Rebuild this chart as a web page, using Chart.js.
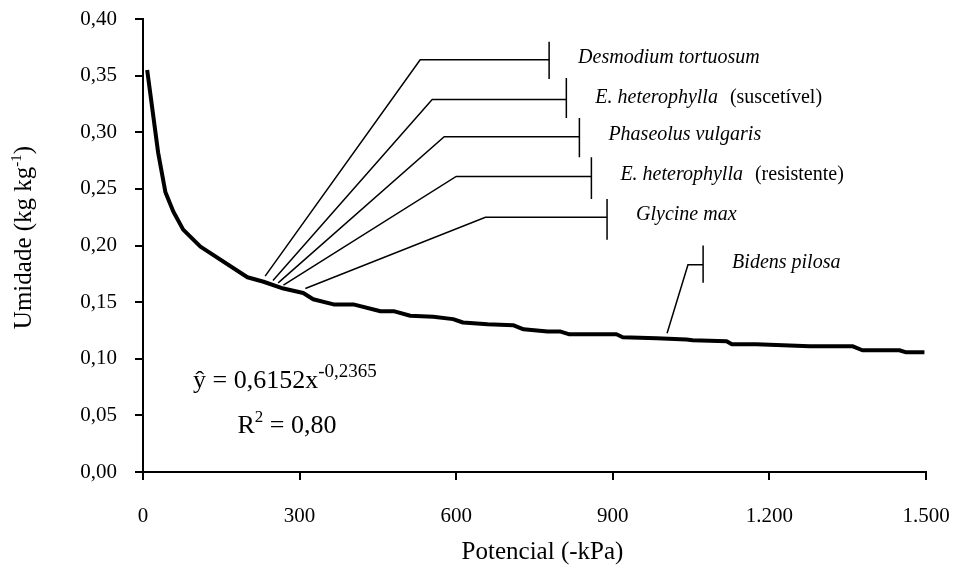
<!DOCTYPE html>
<html>
<head>
<meta charset="utf-8">
<script src="https://cdn.jsdelivr.net/npm/chart.js@4"></script>
<style>
  html, body { margin: 0; padding: 0; background: #fff; }
  canvas { display: block; }
</style>
</head>
<body>
<canvas id="chart" width="953" height="571"></canvas>
<script>
// curva de retenção
const potencial = [8, 29, 43, 58, 77, 110, 200, 231, 269, 307, 326, 365, 403, 455, 480, 512, 556, 594, 613, 660, 709, 729, 775, 800, 817, 907, 919, 984, 1041, 1053, 1118, 1128, 1175, 1277, 1360, 1378, 1449, 1462, 1497];
const umidade = [0.355, 0.282, 0.247, 0.230, 0.214, 0.199, 0.172, 0.168, 0.162, 0.158, 0.1525, 0.148, 0.148, 0.142, 0.142, 0.138, 0.137, 0.135, 0.132, 0.1305, 0.1296, 0.126, 0.124, 0.124, 0.1216, 0.1216, 0.119, 0.118, 0.117, 0.1164, 0.1155, 0.1128, 0.1128, 0.111, 0.111, 0.1075, 0.1075, 0.1057, 0.1057];

// espécies e linhas de chamada
const especies = ['Desmodium tortuosum', 'E. heterophylla', 'Phaseolus vulgaris', 'E. heterophylla', 'Glycine max', 'Bidens pilosa'];
const notas = ['', '(suscetível)', '', '(resistente)', '', ''];
const inicioX = [234, 249, 259, 269, 311, 1004];
const inicioY = [0.173, 0.169, 0.167, 0.165, 0.162, 0.1225];
const cotoveloX = [531, 554, 577, 600, 656, 1044];
const nivelY = [0.364, 0.329, 0.296, 0.261, 0.225, 0.183];
const fimX = [778, 811, 836, 859, 889, 1073];
const marcaTopo = [0.380, 0.348, 0.3125, 0.278, 0.241, 0.200];
const marcaBase = [0.347, 0.3125, 0.278, 0.241, 0.205, 0.167];

// eixos
const xTicks = [0, 300, 600, 900, 1200, 1500];
const yTicks = [0, 0.05, 0.10, 0.15, 0.20, 0.25, 0.30, 0.35, 0.40];

// equação
const equacao = { x: 96, y: 0.074, coef: '0,6152', expoente: '-0,2365' };
const ajuste = { x: 181, y: 0.034, r2: '0,80' };

const FONTE = 'Liberation Serif, Times New Roman, serif';

const datasets = [{
  data: potencial.map((p, i) => ({ x: p, y: umidade[i] })),
  borderColor: '#000',
  borderWidth: 4,
  borderJoinStyle: 'round',
  borderCapStyle: 'butt',
  pointRadius: 0,
  tension: 0
}];

especies.forEach((_, i) => {
  datasets.push({
    data: [
      { x: inicioX[i], y: inicioY[i] },
      { x: cotoveloX[i], y: nivelY[i] },
      { x: fimX[i], y: nivelY[i] }
    ],
    borderColor: '#000',
    borderWidth: 1.5,
    pointRadius: 0,
    tension: 0
  });
  datasets.push({
    data: [
      { x: fimX[i], y: marcaTopo[i] },
      { x: fimX[i], y: marcaBase[i] }
    ],
    borderColor: '#000',
    borderWidth: 1.5,
    pointRadius: 0,
    tension: 0
  });
});

function formatMilhar(v) {
  return String(v).replace(/\B(?=(\d{3})+(?!\d))/g, '.');
}

// zera o recuo automático das escalas, a área fica só pelo layout.padding
function semRecuo(s) {
  s.paddingTop = 0;
  s.paddingBottom = 0;
  s.paddingLeft = 0;
  s.paddingRight = 0;
}

// textos: rótulos das espécies, equação e títulos dos eixos
const textos = {
  id: 'textos',
  afterDraw(chart) {
    const c = chart.ctx;
    const xs = chart.scales.x;
    const ys = chart.scales.y;
    const area = chart.chartArea;
    c.save();
    c.fillStyle = '#000';

    // rótulos
    c.textBaseline = 'middle';
    c.textAlign = 'left';
    especies.forEach((nome, i) => {
      const px = xs.getPixelForValue(fimX[i]) + 29;
      const py = ys.getPixelForValue(nivelY[i]) - 2;
      c.font = 'italic 20px ' + FONTE;
      c.fillText(nome, px, py);
      if (notas[i]) {
        const w = c.measureText(nome).width;
        c.font = '20px ' + FONTE;
        c.fillText(notas[i], px + w + 12, py);
      }
    });

    // equação
    c.textBaseline = 'alphabetic';
    let px = xs.getPixelForValue(equacao.x);
    let py = ys.getPixelForValue(equacao.y);
    c.font = '26px ' + FONTE;
    const base = '\u0177 = ' + equacao.coef + 'x';
    c.fillText(base, px, py);
    px += c.measureText(base).width;
    c.font = '19px ' + FONTE;
    c.fillText(equacao.expoente, px, py - 11);

    px = xs.getPixelForValue(ajuste.x);
    py = ys.getPixelForValue(ajuste.y);
    c.font = '26px ' + FONTE;
    c.fillText('R', px, py);
    px += c.measureText('R').width;
    c.font = '17px ' + FONTE;
    c.fillText('2', px, py - 11);
    px += c.measureText('2').width;
    c.font = '26px ' + FONTE;
    c.fillText(' = ' + ajuste.r2, px, py);

    // título eixo x
    c.font = '25px ' + FONTE;
    c.textAlign = 'center';
    c.fillText('Potencial (-kPa)', (area.left + area.right) / 2 + 8, area.bottom + 87);

    // título eixo y (rotacionado)
    c.translate(area.left - 112, (area.top + area.bottom) / 2 - 8);
    c.rotate(-Math.PI / 2);
    c.textAlign = 'left';
    const p1 = 'Umidade (kg kg';
    const p2 = '-1';
    const p3 = ')';
    c.font = '25px ' + FONTE;
    const w1 = c.measureText(p1).width;
    const w3 = c.measureText(p3).width;
    c.font = '15px ' + FONTE;
    const w2 = c.measureText(p2).width;
    let tx = -(w1 + w2 + w3) / 2;
    c.font = '25px ' + FONTE;
    c.fillText(p1, tx, 0);
    tx += w1;
    c.font = '15px ' + FONTE;
    c.fillText(p2, tx, -10);
    tx += w2;
    c.font = '25px ' + FONTE;
    c.fillText(p3, tx, 0);

    c.restore();
  }
};

const ctx = document.getElementById('chart').getContext('2d');
new Chart(ctx, {
  type: 'line',
  data: { datasets: datasets },
  options: {
    responsive: false,
    animation: false,
    devicePixelRatio: 1,
    layout: { padding: { top: 19, right: 27, left: 0, bottom: 0 } },
    plugins: {
      legend: { display: false },
      tooltip: { enabled: false }
    },
    scales: {
      x: {
        type: 'linear',
        min: 0,
        max: 1500,
        afterBuildTicks: (s) => { s.ticks = xTicks.map(v => ({ value: v })); },
        afterFit: (s) => { s.height = 99; semRecuo(s); },
        ticks: {
          color: '#000',
          font: { family: FONTE, size: 21 },
          padding: 24,
          maxRotation: 0,
          callback: (v) => formatMilhar(v)
        },
        grid: { drawOnChartArea: false, drawTicks: true, tickLength: 8, color: '#000', lineWidth: 2 },
        border: { color: '#000', width: 2 }
      },
      y: {
        type: 'linear',
        min: 0,
        max: 0.4,
        afterBuildTicks: (s) => { s.ticks = yTicks.map(v => ({ value: v })); },
        afterFit: (s) => { s.width = 143; semRecuo(s); },
        ticks: {
          color: '#000',
          font: { family: FONTE, size: 21 },
          padding: 18,
          callback: (v) => v.toFixed(2).replace('.', ',')
        },
        grid: { drawOnChartArea: false, drawTicks: true, tickLength: 8, color: '#000', lineWidth: 2 },
        border: { color: '#000', width: 2 }
      }
    }
  },
  plugins: [textos]
});
</script>
</body>
</html>
